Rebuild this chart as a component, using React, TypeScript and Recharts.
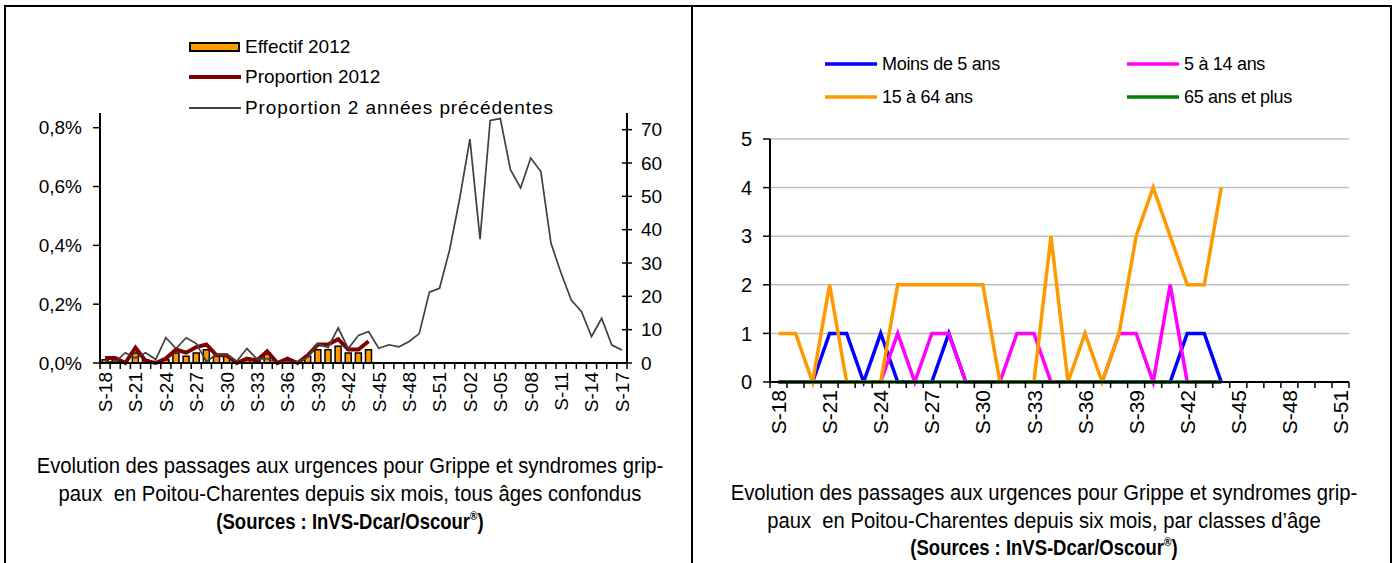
import React from "react";
import { Bar, CartesianGrid, ComposedChart, Legend, Line, XAxis, YAxis } from "recharts";

// weeks S-18 2012 .. S-17 2013
const weeksYear = [
  "S-18", "S-19", "S-20", "S-21", "S-22", "S-23", "S-24", "S-25", "S-26", "S-27",
  "S-28", "S-29", "S-30", "S-31", "S-32", "S-33", "S-34", "S-35", "S-36", "S-37",
  "S-38", "S-39", "S-40", "S-41", "S-42", "S-43", "S-44", "S-45", "S-46", "S-47",
  "S-48", "S-49", "S-50", "S-51", "S-52", "S-01", "S-02", "S-03", "S-04", "S-05",
  "S-06", "S-07", "S-08", "S-09", "S-10", "S-11", "S-12", "S-13", "S-14", "S-15",
  "S-16", "S-17",
];
const weeksAge = weeksYear.slice(0, 34); // S-18 .. S-51

// left chart
const effectif2012 = [1, 1, 0, 3, 1, 0, 1, 3, 2, 3, 4, 2, 2, 0, 1, 1, 3, 0, 1, 0, 2, 4, 4, 5, 3, 3, 4];
const proportion2012 = [
  0.017, 0.017, 0, 0.052, 0.007, 0, 0.015, 0.046, 0.035, 0.054, 0.063, 0.026, 0.026, 0,
  0.015, 0.009, 0.04, 0, 0.015, 0, 0.026, 0.063, 0.063, 0.081, 0.046, 0.046, 0.074,
];
const proportionPrev = [
  0.004, 0.004, 0.035, 0.017, 0.035, 0.012, 0.086, 0.049, 0.086, 0.066, 0.005, 0.029, 0.029,
  0.006, 0.049, 0.013, 0.015, 0, 0.003, 0.003, 0.02, 0.066, 0.052, 0.119, 0.049, 0.094,
  0.107, 0.05, 0.062, 0.055, 0.073, 0.1, 0.241, 0.254, 0.385, 0.561, 0.761, 0.421, 0.825,
  0.831, 0.657, 0.595, 0.697, 0.651, 0.407, 0.305, 0.214, 0.175, 0.09, 0.152, 0.061, 0.044,
];
const pctTicks = [0, 0.2, 0.4, 0.6, 0.8];
const countTicks = [0, 10, 20, 30, 40, 50, 60, 70];

// right chart
const moins5 = [0, 0, 0, 1, 1, 0, 1, 0, 0, 0, 1, 0, 0, 0, 0, 0, 0, 0, 0, 0, 0, 0, 0, 0, 1, 1, 0];
const de5a14 = [0, 0, 0, 0, 0, 0, 0, 1, 0, 1, 1, 0, 0, 0, 1, 1, 0, 0, 0, 0, 1, 1, 0, 2, 0, 0, 0];
const de15a64 = [1, 1, 0, 2, 0, 0, 0, 2, 2, 2, 2, 2, 2, 0, 0, 0, 3, 0, 1, 0, 1, 3, 4, 3, 2, 2, 4];
const plus65 = [0, 0, 0, 0, 0, 0, 0, 0, 0, 0, 0, 0, 0, 0, 0, 0, 0, 0, 0, 0, 0, 0, 0, 0, 0, 0, 0];
const ageTicks = [0, 1, 2, 3, 4, 5];

const leftData = weeksYear.map((w, i) => ({
  week: w,
  effectif: effectif2012[i] ?? null,
  prop: proportion2012[i] ?? null,
  prev: proportionPrev[i] ?? null,
}));

const rightData = weeksAge.map((w, i) => ({
  week: w,
  moins5: moins5[i] ?? null,
  de5a14: de5a14[i] ?? null,
  de15a64: de15a64[i] ?? null,
  plus65: plus65[i] ?? null,
}));

const AXIS_FONT = "'Liberation Sans', Arial, sans-serif";

function WeekTick(props: any) {
  const { x, y, payload, index, band, count, fontSize, gap } = props;
  return (
    <g>
      <line x1={x - band / 2} y1={y} x2={x - band / 2} y2={y + 6} stroke="#000" strokeWidth={1.5} />
      {index === count - 1 && (
        <line x1={x + band / 2} y1={y} x2={x + band / 2} y2={y + 6} stroke="#000" strokeWidth={1.5} />
      )}
      {index % 3 === 0 && (
        <text
          transform={`translate(${x},${y + gap}) rotate(-90)`}
          textAnchor="end"
          dy="0.36em"
          fontSize={fontSize}
          fontFamily={AXIS_FONT}
          fill="#000"
        >
          {payload.value}
        </text>
      )}
    </g>
  );
}

function CrossTick(props: any) {
  const { x, y, payload } = props;
  return (
    <g>
      <line x1={x - 5} y1={y} x2={x + 5} y2={y} stroke="#000" strokeWidth={1.5} />
      <text x={x + 14} y={y} dy="0.35em" textAnchor="start" fontSize={19} fontFamily={AXIS_FONT} fill="#000">
        {payload.value}
      </text>
    </g>
  );
}

function LeftLegend() {
  const rows = [
    { label: "Effectif 2012", y: 47, kind: "bar", spacing: 0 },
    { label: "Proportion 2012", y: 77, kind: "red", spacing: 0 },
    { label: "Proportion 2 années précédentes", y: 108, kind: "gray", spacing: 0.9 },
  ];
  return (
    <div style={{ position: "relative" }}>
      {rows.map((r) => (
        <div key={r.label} style={{ position: "absolute", left: 0, top: r.y - 12, height: 24, whiteSpace: "nowrap" }}>
          <svg width={52} height={24} style={{ position: "absolute", left: 189, top: 0 }}>
            {r.kind === "bar" && <rect x={1} y={8} width={49} height={8} fill="#FF9900" stroke="#000" strokeWidth={2} />}
            {r.kind === "red" && <line x1={0} y1={12} x2={52} y2={12} stroke="#800000" strokeWidth={4} />}
            {r.kind === "gray" && <line x1={0} y1={12} x2={52} y2={12} stroke="#404040" strokeWidth={1.8} />}
          </svg>
          <span
            style={{
              position: "absolute",
              left: 245,
              top: 0,
              lineHeight: "24px",
              fontSize: 19,
              fontFamily: AXIS_FONT,
              letterSpacing: r.spacing,
              color: "#000",
            }}
          >
            {r.label}
          </span>
        </div>
      ))}
    </div>
  );
}

function RightLegend() {
  const items = [
    { label: "Moins de 5 ans", color: "#0000FF", x: 133, y: 64 },
    { label: "5 à 14 ans", color: "#FF00FF", x: 435, y: 64 },
    { label: "15 à 64 ans", color: "#FF9900", x: 133, y: 97 },
    { label: "65 ans et plus", color: "#008000", x: 435, y: 97 },
  ];
  return (
    <div style={{ position: "relative" }}>
      {items.map((it) => (
        <div key={it.label} style={{ position: "absolute", left: it.x, top: it.y - 12, height: 24, whiteSpace: "nowrap" }}>
          <svg width={52} height={24} style={{ position: "absolute", left: 0, top: 0 }}>
            <line x1={0} y1={12} x2={52} y2={12} stroke={it.color} strokeWidth={3.5} />
          </svg>
          <span
            style={{
              position: "absolute",
              left: 57,
              top: 0,
              lineHeight: "24px",
              fontSize: 18,
              fontFamily: AXIS_FONT,
              letterSpacing: -0.3,
              color: "#000",
            }}
          >
            {it.label}
          </span>
        </div>
      ))}
    </div>
  );
}

function TitleLine({ cx, cy, bold, scale, children }: any) {
  return (
    <div
      style={{
        position: "absolute",
        left: cx - 450,
        top: cy - 14,
        width: 900,
        height: 28,
        lineHeight: "28px",
        textAlign: "center",
        whiteSpace: "nowrap",
        fontFamily: AXIS_FONT,
        fontSize: 22,
        fontWeight: bold ? 700 : 400,
        color: "#000",
        transform: `scaleX(${scale})`,
        transformOrigin: "center",
      }}
    >
      {children}
    </div>
  );
}

const sup = (
  <span style={{ fontSize: 12, position: "relative", top: -9, lineHeight: 0 }}>®</span>
);

export default function App() {
  const leftBand = 527 / weeksYear.length;
  const rightBand = 579 / weeksAge.length;
  return (
    <div style={{ position: "absolute", left: 0, top: 0, width: 1397, height: 563, background: "#fff", overflow: "hidden" }}>
      {/* frame */}
      <div style={{ position: "absolute", left: 4, top: 5, width: 1388, height: 2, background: "#000" }} />
      <div style={{ position: "absolute", left: 4, top: 5, width: 2, height: 558, background: "#000" }} />
      <div style={{ position: "absolute", left: 691, top: 5, width: 2, height: 558, background: "#000" }} />
      <div style={{ position: "absolute", left: 1390, top: 5, width: 2, height: 558, background: "#000" }} />

      <div style={{ position: "absolute", left: 0, top: 0 }}>
        <ComposedChart width={690} height={440} data={leftData} margin={{ top: 113, right: 3, bottom: 17, left: 40 }}>
          <XAxis
            dataKey="week"
            scale="band"
            interval={0}
            height={60}
            tickSize={0}
            tickMargin={0}
            tickLine={false}
            axisLine={{ stroke: "#000", strokeWidth: 2 }}
            tick={(p: any) => <WeekTick {...p} band={leftBand} count={weeksYear.length} fontSize={19} gap={9} />}
          />
          <YAxis
            yAxisId="pct"
            domain={[0, 0.85]}
            ticks={pctTicks}
            width={60}
            tickSize={7}
            tickMargin={11}
            axisLine={{ stroke: "#000", strokeWidth: 2 }}
            tickLine={{ stroke: "#000", strokeWidth: 1.5 }}
            tick={{ fontSize: 19, fontFamily: AXIS_FONT, fill: "#000" }}
            tickFormatter={(v: number) => `${v.toFixed(1).replace(".", ",")}%`}
          />
          <YAxis
            yAxisId="n"
            orientation="right"
            domain={[0, 75]}
            ticks={countTicks}
            width={60}
            tickSize={0}
            tickMargin={0}
            tickLine={false}
            axisLine={{ stroke: "#000", strokeWidth: 2 }}
            tick={(p: any) => <CrossTick {...p} />}
          />
          <Legend layout="vertical" align="center" verticalAlign="middle" wrapperStyle={{ top: 0, left: 0 }} content={() => <LeftLegend />} />
          <Bar yAxisId="n" dataKey="effectif" barSize={6} fill="#FF9900" stroke="#000" strokeWidth={1.5} isAnimationActive={false} />
          <Line yAxisId="pct" dataKey="prop" stroke="#800000" strokeWidth={4} dot={false} isAnimationActive={false} />
          <Line yAxisId="pct" dataKey="prev" stroke="#404040" strokeWidth={1.7} dot={false} isAnimationActive={false} />
        </ComposedChart>
      </div>

      <div style={{ position: "absolute", left: 692, top: 0 }}>
        <ComposedChart width={698} height={450} data={rightData} margin={{ top: 139, right: 41, bottom: 8, left: 28 }}>
          <CartesianGrid vertical={false} stroke="#BFBFBF" strokeWidth={1.5} yAxisId="age" />
          <XAxis
            dataKey="week"
            scale="band"
            interval={0}
            height={60}
            tickSize={0}
            tickMargin={0}
            tickLine={false}
            axisLine={{ stroke: "#000", strokeWidth: 2 }}
            tick={(p: any) => <WeekTick {...p} band={rightBand} count={weeksAge.length} fontSize={21} gap={8} />}
          />
          <YAxis
            yAxisId="age"
            domain={[0, 5]}
            ticks={ageTicks}
            width={50}
            tickSize={7}
            tickMargin={11}
            axisLine={{ stroke: "#000", strokeWidth: 2 }}
            tickLine={{ stroke: "#000", strokeWidth: 1.5 }}
            tick={{ fontSize: 20, fontFamily: AXIS_FONT, fill: "#000" }}
          />
          <Legend layout="vertical" align="center" verticalAlign="middle" wrapperStyle={{ top: 0, left: 0 }} content={() => <RightLegend />} />
          <Line yAxisId="age" dataKey="moins5" stroke="#0000FF" strokeWidth={3.5} dot={false} isAnimationActive={false} />
          <Line yAxisId="age" dataKey="de5a14" stroke="#FF00FF" strokeWidth={3.5} dot={false} isAnimationActive={false} />
          <Line yAxisId="age" dataKey="de15a64" stroke="#FF9900" strokeWidth={3.5} dot={false} isAnimationActive={false} />
          <Line yAxisId="age" dataKey="plus65" stroke="#008000" strokeWidth={3.5} dot={false} isAnimationActive={false} />
        </ComposedChart>
      </div>

      <TitleLine cx={350} cy={466} scale={0.92}>
        Evolution des passages aux urgences pour Grippe et syndromes grip-
      </TitleLine>
      <TitleLine cx={350} cy={494} scale={0.92}>
        paux&nbsp; en Poitou-Charentes depuis six mois, tous âges confondus
      </TitleLine>
      <TitleLine cx={350} cy={522} scale={0.84} bold>
        (Sources : InVS-Dcar/Oscour{sup})
      </TitleLine>

      <TitleLine cx={1044} cy={493} scale={0.92}>
        Evolution des passages aux urgences pour Grippe et syndromes grip-
      </TitleLine>
      <TitleLine cx={1044} cy={521} scale={0.92}>
        paux&nbsp; en Poitou-Charentes depuis six mois, par classes d’âge
      </TitleLine>
      <TitleLine cx={1044} cy={548} scale={0.84} bold>
        (Sources : InVS-Dcar/Oscour{sup})
      </TitleLine>
    </div>
  );
}
